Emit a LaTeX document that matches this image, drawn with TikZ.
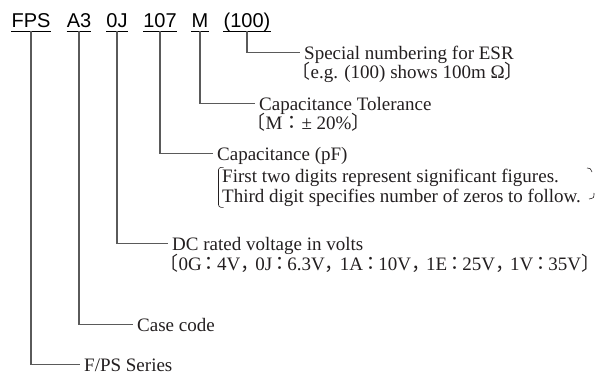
\documentclass[tikz,border=0pt]{standalone}
\usepackage{fontspec}
\setmainfont{Liberation Serif}
\newfontfamily\labelfont{Liberation Sans}
\newfontfamily\cjk{Noto Sans CJK JP}
\usetikzlibrary{positioning}
\definecolor{leadgray}{RGB}{90,90,90}
\definecolor{inkc}{RGB}{35,31,32}
\newcommand{\opn}{{\cjk\kern-0.45em 〔}}
\newcommand{\cls}{{\cjk 〕\kern-0.5em}}
\newcommand{\col}{{\cjk ：}}
\newcommand{\dcol}{{\cjk\kern-0.1em ：\kern-0.1em}}
\newcommand{\dcma}{{\cjk ，\kern-0.21em}}

\begin{document}
\begin{tikzpicture}[
x=1pt,y=-1pt,
part/.style={font=\labelfont\fontsize{20}{24}\selectfont,anchor=base,inner xsep=0pt,inner ysep=4pt,text depth=0pt},
desc/.style={font=\fontsize{19}{22}\selectfont,text=inkc,anchor=base west,inner xsep=4pt,inner ysep=0pt,text height=13pt,text depth=0pt},
note/.style={font=\fontsize{19}{22}\selectfont,text=inkc,anchor=base west,inner sep=0pt},
lead/.style={draw=leadgray,line width=1.2pt},
uline/.style={draw=black,line width=0.9pt},
brk/.style={draw=inkc,line width=0.6pt,rounded corners=2.5pt}
]
\useasboundingbox (0,0) rectangle (606,378);

\node[part] (fps) at (31,27) {FPS};
\node[part] (a3) at (79,27) {A3};
\node[part] (volt) at (117,27) {0J};
\node[part] (capc) at (160,27) {107};
\node[part] (tolc) at (200,27) {M};
\node[part] (esrc) at (247,27) {(100)};
\foreach \n in {fps,a3,volt,capc,tolc,esrc}
    \draw[uline] (\n.south west) -- (\n.south east);

\node[desc] (esr) at (300,59) {Special numbering for ESR};
\node[note] (esrnote) at ([yshift=-19pt]esr.base west) {\opn e.g. (100) shows 100m Ω\cls};

\node[desc] (tol) at (255,110) {Capacitance Tolerance};
\node[note] (tolnote) at ([yshift=-19pt]tol.base west) {\opn M\col ± 20\%\cls};

\node[desc] (cap) at (213,160) {Capacitance (pF)};
\node[note] (capa) at ([xshift=9pt,yshift=-22pt]cap.base west) {First two digits represent significant figures.};
\node[note] (capb) at ([yshift=-20pt]capa.base west) {Third digit specifies number of zeros to follow.};

\node[desc] (dcv) at (168,250) {DC rated voltage in volts};
\node[note] (dcvnote) at ([yshift=-20pt]dcv.base west) {\opn 0G\dcol 4V\dcma 0J\dcol 6.3V\dcma 1A\dcol 10V\dcma 1E\dcol 25V\dcma 1V\dcol 35V\cls};

\node[desc] (case) at (133,331) {Case code};
\node[desc] (series) at (80,371) {F/PS Series};

\draw[lead] (esrc.south) |- (esr.west);
\draw[lead] (tolc.south) |- (tol.west);
\draw[lead] (capc.south) |- (cap.west);
\draw[lead] (volt.south) |- (dcv.west);
\draw[lead] (a3.south) |- (case.west);
\draw[lead] (fps.south) |- (series.west);

\draw[brk] ([xshift=1.5pt,yshift=1pt]capa.north west) -| ([xshift=-3.5pt,yshift=-1pt]capb.south west) -- ([xshift=1.5pt,yshift=-1pt]capb.south west);
\draw[brk] (587,168) .. controls (590,168) .. (592,172);
\draw[brk] (594,193) .. controls (594,198) .. (589,199);

\end{tikzpicture}
\end{document}
